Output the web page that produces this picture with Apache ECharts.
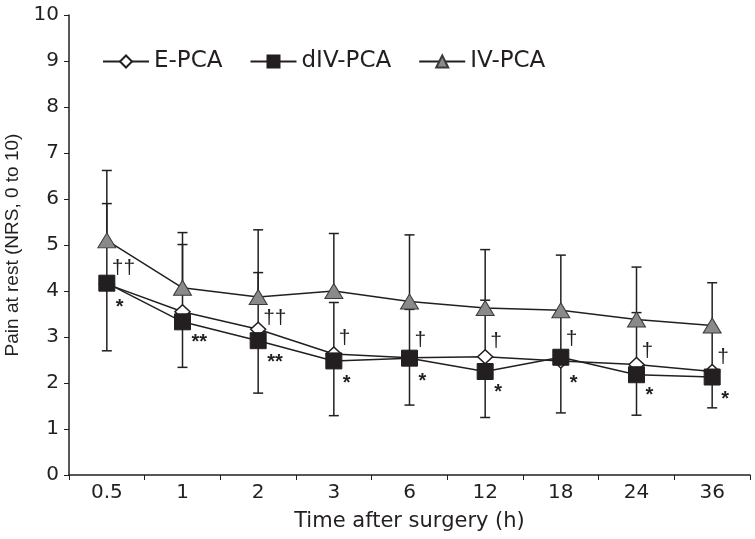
<!DOCTYPE html>
<html>
<head>
<meta charset="utf-8">
<script src="https://cdn.jsdelivr.net/npm/echarts@6/dist/echarts.min.js"></script>
<style>
  html, body { margin: 0; padding: 0; background: #fff; }
  #main { width: 755px; height: 539px; }
</style>
</head>
<body>
<div id="main"></div>
<script>
// time points (h)
const categories = ['0.5', '1', '2', '3', '6', '12', '18', '24', '36'];

// mean pain scores
const ePCA = [4.15, 3.55, 3.17, 2.63, 2.55, 2.57, 2.48, 2.40, 2.25];
const dIVPCA = [4.17, 3.33, 2.92, 2.48, 2.54, 2.25, 2.56, 2.18, 2.13];
const ivPCA = [5.10, 4.07, 3.87, 4.00, 3.77, 3.63, 3.58, 3.38, 3.25];

// error bar ends
const ivUpper = [6.62, 5.27, 5.33, 5.25, 5.22, 4.90, 4.78, 4.52, 4.18];
const eUpper = [5.90, 5.01, 4.40, 3.75, 3.60, 3.80, 3.50, 3.53, 3.20];
const dIVLower = [2.70, 2.34, 1.78, 1.29, 1.52, 1.25, 1.35, 1.30, 1.46];

// significance marks
const daggerText = ['††', '', '††', '†', '†', '†', '†', '†', '†'];
const daggerY = [4.50, null, 3.41, 2.98, 2.93, 2.91, 2.95, 2.70, 2.57];
const starText = ['*', '**', '**', '*', '*', '*', '*', '*', '*'];
const starY = [3.74, 3.00, 2.55, 2.10, 2.15, 1.91, 2.10, 1.83, 1.76];

const yTicks = [0, 1, 2, 3, 4, 5, 6, 7, 8, 9, 10];

const font = 'Liberation Sans, Arial, sans-serif';
const wide = 'DejaVu Sans, sans-serif';
const ink = '#231f20';

function barData(means, ends) {
    return means.map((m, i) => [i, m, ends[i]]);
}

function renderBar(params, api) {
    const i = api.value(0);
    const p1 = api.coord([i, api.value(1)]);
    const p2 = api.coord([i, api.value(2)]);
    const style = { stroke: ink, lineWidth: 1.5 };
    return {
        type: 'group',
        children: [
            { type: 'line', shape: { x1: p1[0], y1: p1[1], x2: p2[0], y2: p2[1] }, style: style },
            { type: 'line', shape: { x1: p2[0] - 5, y1: p2[1], x2: p2[0] + 5, y2: p2[1] }, style: style }
        ]
    };
}

// text marks next to the points
function marks(texts, ys, size, weight, dx, dy) {
    return {
        type: 'custom',
        silent: true,
        z: 6,
        data: ys.map((y, i) => [i, y]).filter(d => d[1] != null),
        renderItem: function (params, api) {
            const i = api.value(0);
            const p = api.coord([i, api.value(1)]);
            return {
                type: 'text',
                x: p[0] + dx,
                y: p[1] + dy,
                style: {
                    text: texts[i],
                    fill: ink,
                    fontFamily: font,
                    fontSize: size,
                    fontWeight: weight,
                    align: 'left',
                    verticalAlign: 'middle'
                }
            };
        }
    };
}

const lineStyle = { color: ink, width: 1.5 };

const chart = echarts.init(document.getElementById('main'));
chart.setOption({
    animation: false,
    backgroundColor: '#fff',
    grid: { left: 69, right: 5, top: 15, bottom: 64, containLabel: false, outerBoundsMode: 'none' },
    legend: {
        data: ['E-PCA', 'dIV-PCA', 'IV-PCA'],
        left: 97,
        top: 45,
        itemWidth: 46,
        itemHeight: 15,
        itemGap: 27,
        textStyle: { fontFamily: wide, fontSize: 23, color: ink }
    },
    xAxis: {
        type: 'category',
        data: categories,
        boundaryGap: true,
        name: 'Time after surgery (h)',
        nameLocation: 'middle',
        nameGap: 36,
        nameTextStyle: { fontFamily: wide, fontSize: 21, color: ink },
        axisLine: { lineStyle: { color: ink, width: 1.5 } },
        axisTick: { show: true, length: 5, lineStyle: { color: ink } },
        axisLabel: { fontFamily: wide, fontSize: 20, color: ink, margin: 8 },
        splitLine: { show: false }
    },
    yAxis: {
        type: 'value',
        min: yTicks[0],
        max: yTicks[yTicks.length - 1],
        interval: 1,
        name: 'Pain at rest (NRS, 0 to 10)',
        nameLocation: 'middle',
        nameGap: 47,
        nameTextStyle: { fontFamily: font, fontSize: 19, color: ink },
        axisLine: { show: true, lineStyle: { color: ink, width: 1.5 } },
        axisTick: { show: true, length: 5, lineStyle: { color: ink } },
        axisLabel: { fontFamily: wide, fontSize: 20, color: ink, margin: 10 },
        splitLine: { show: false }
    },
    series: [
        { type: 'custom', renderItem: renderBar, data: barData(ivPCA, ivUpper), z: 1, silent: true },
        { type: 'custom', renderItem: renderBar, data: barData(ePCA, eUpper), z: 1, silent: true },
        { type: 'custom', renderItem: renderBar, data: barData(dIVPCA, dIVLower), z: 1, silent: true },
        {
            name: 'IV-PCA', type: 'line', data: ivPCA, z: 2,
            symbol: 'triangle', symbolSize: [18, 15],
            itemStyle: { color: '#8a8a8a', borderColor: '#3a3a3a', borderWidth: 1 },
            lineStyle: lineStyle
        },
        {
            name: 'E-PCA', type: 'line', data: ePCA, z: 3,
            symbol: 'diamond', symbolSize: [15, 14],
            itemStyle: { color: '#ffffff', borderColor: ink, borderWidth: 1.5 },
            lineStyle: lineStyle
        },
        {
            name: 'dIV-PCA', type: 'line', data: dIVPCA, z: 4,
            symbol: 'rect', symbolSize: 16,
            itemStyle: { color: ink, borderColor: ink, borderWidth: 1 },
            lineStyle: lineStyle
        },
        marks(daggerText, daggerY, 21, 'normal', 5, 0),
        marks(starText, starY, 20, 'bold', 9, 5)
    ]
});
</script>
</body>
</html>
